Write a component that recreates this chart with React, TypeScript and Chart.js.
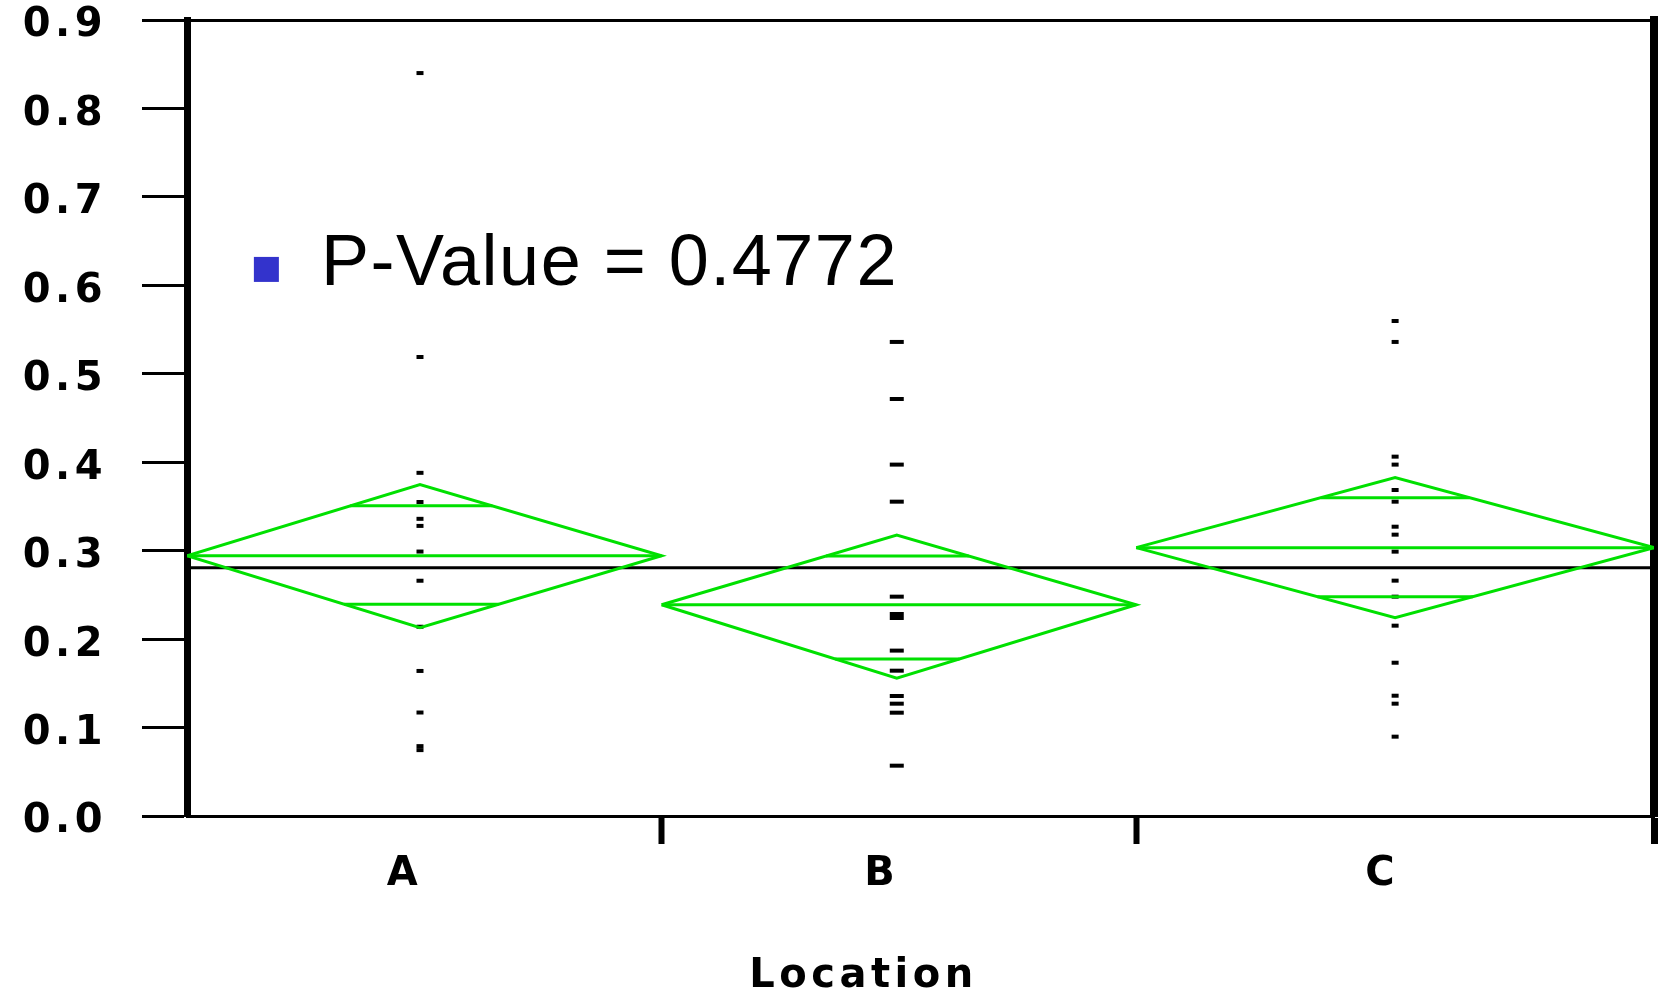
import React, { useEffect, useRef } from 'react';
import { Chart, registerables } from 'chart.js';

Chart.register(...registerables);

// ---------------- data ----------------
const categories = ['A', 'B', 'C'];
// group boundaries on the x axis (width of each group's diamond)
const groupEdges = [0, 11, 22, 34];
const groupCenters = [5.4, 16.45, 28.0];
// positions where the category labels sit
const labelPositions = [5.04, 16.1, 27.7];

const groupMeans = [0.2943, 0.2389, 0.3034];
const ciUpper = [0.3748, 0.3177, 0.3826];
const ciLower = [0.2128, 0.1557, 0.2242];
const overlapUpper = [0.3507, 0.294, 0.3599];
const overlapLower = [0.2393, 0.1775, 0.248];
const grandMean = 0.2808;

const pointsA = [0.84, 0.519, 0.388, 0.355, 0.336, 0.328, 0.299, 0.266, 0.214, 0.164, 0.117, 0.079, 0.0745];
const pointsB = [0.536, 0.4715, 0.3973, 0.3554, 0.248, 0.2284, 0.2239, 0.187, 0.1643, 0.1357, 0.127, 0.1168, 0.0569];
const pointsC = [0.5597, 0.536, 0.4063, 0.3973, 0.3686, 0.3554, 0.3271, 0.3181, 0.2989, 0.2661, 0.248, 0.2152, 0.1733, 0.136, 0.127, 0.0897];

const yTicks = [0, 0.1, 0.2, 0.3, 0.4, 0.5, 0.6, 0.7, 0.8, 0.9];
const xTitle = 'Location';
const xTitleAt = 15.68;
const pValueText = 'P-Value = 0.4772';
const pValueAnchor = { x: 1.55, y: 0.618 };

// ---------------- styles ----------------
const GREEN = 'rgb(0,224,0)';
const BLACK = '#000';
const MARKER_BLUE = 'rgb(51,51,204)';
const dashHalf = [3.5, 7, 3.5];
const SPACING = '4.5px';
const axisFont = { family: "'DejaVu Sans', sans-serif", size: 40, weight: 'bold' as const, lineHeight: 1 };

function buildDatasets() {
  const ds: any[] = [];
  const lineBase = { showLine: true, pointRadius: 0, borderWidth: 3, fill: false };
  for (let i = 0; i < categories.length; i++) {
    const x0 = groupEdges[i];
    const x1 = groupEdges[i + 1];
    const xc = groupCenters[i];
    const m = groupMeans[i];
    ds.push({
      ...lineBase,
      label: categories[i] + ' diamond',
      borderColor: GREEN,
      data: [
        { x: x0, y: m },
        { x: xc, y: ciUpper[i] },
        { x: x1, y: m },
        { x: xc, y: ciLower[i] },
        { x: x0, y: m },
      ],
    });
    ds.push({
      ...lineBase,
      label: categories[i] + ' mean',
      borderColor: GREEN,
      data: [
        { x: x0, y: m },
        { x: x1, y: m },
      ],
    });
    const marks: [number, number][] = [
      [overlapUpper[i], ciUpper[i]],
      [overlapLower[i], ciLower[i]],
    ];
    marks.forEach(([ov, ci], k) => {
      const f = 1 - (ov - m) / (ci - m);
      ds.push({
        ...lineBase,
        label: categories[i] + (k === 0 ? ' overlap upper' : ' overlap lower'),
        borderColor: GREEN,
        data: [
          { x: xc - f * (xc - x0), y: ov },
          { x: xc + f * (x1 - xc), y: ov },
        ],
      });
    });
  }
  ds.push({
    ...lineBase,
    label: 'Grand mean',
    borderColor: BLACK,
    data: [
      { x: groupEdges[0], y: grandMean },
      { x: groupEdges[groupEdges.length - 1], y: grandMean },
    ],
  });
  [pointsA, pointsB, pointsC].forEach((pts, i) => {
    ds.push({
      label: categories[i] + ' points',
      showLine: false,
      data: pts.map((v) => ({ x: groupCenters[i], y: v })),
      pointStyle: 'line',
      pointRadius: dashHalf[i],
      pointBorderWidth: 4,
      pointBorderColor: BLACK,
      pointBackgroundColor: BLACK,
      borderColor: BLACK,
    });
  });
  return ds;
}

const textPlugin = {
  id: 'textExtras',
  beforeDraw(chart: any) {
    chart.ctx.letterSpacing = SPACING;
  },
  afterDraw(chart: any) {
    const { ctx, scales, chartArea } = chart;
    ctx.save();
    // axis title
    ctx.letterSpacing = SPACING;
    ctx.font = "bold 40px 'DejaVu Sans', sans-serif";
    ctx.fillStyle = BLACK;
    ctx.textAlign = 'center';
    ctx.textBaseline = 'alphabetic';
    ctx.fillText(xTitle, scales.x.getPixelForValue(xTitleAt), chartArea.bottom + 171);
    // p-value note
    ctx.letterSpacing = '1.5px';
    const ax = scales.x.getPixelForValue(pValueAnchor.x);
    const ay = scales.y.getPixelForValue(pValueAnchor.y);
    ctx.fillStyle = MARKER_BLUE;
    ctx.fillRect(ax, ay - 12.5, 25, 25);
    ctx.fillStyle = BLACK;
    ctx.font = "72px 'Liberation Sans', Arial, sans-serif";
    ctx.textAlign = 'left';
    ctx.textBaseline = 'alphabetic';
    ctx.fillText(pValueText, ax + 67, ay + 15.5);
    ctx.restore();
    ctx.letterSpacing = SPACING;
  },
};

export default function App() {
  const canvasRef = useRef<HTMLCanvasElement | null>(null);

  useEffect(() => {
    if (!canvasRef.current) return;
    const xMax = groupEdges[groupEdges.length - 1];
    const chart = new Chart(canvasRef.current, {
      type: 'scatter',
      data: { datasets: buildDatasets() },
      plugins: [textPlugin],
      options: {
        animation: false,
        responsive: false,
        events: [],
        layout: { padding: { top: 20, left: 0, right: 0, bottom: 0 } },
        plugins: {
          legend: { display: false },
          tooltip: { enabled: false },
        },
        scales: {
          x: {
            type: 'linear',
            position: 'bottom',
            min: 0,
            max: xMax,
            afterBuildTicks: (s: any) => {
              const vals = [...groupEdges.slice(1), ...labelPositions].sort((a, b) => a - b);
              s.ticks = vals.map((v) => ({ value: v }));
            },
            afterFit: (s: any) => {
              s.height = 176;
              s.paddingLeft = 0;
              s.paddingRight = 0;
            },
            grid: {
              display: true,
              drawOnChartArea: false,
              drawTicks: true,
              tickLength: 28,
              tickColor: (c: any) => (c.tick && groupEdges.includes(c.tick.value) ? BLACK : 'rgba(0,0,0,0)'),
              tickWidth: (c: any) => (c.tick && c.tick.value === xMax ? 7 : 6),
            },
            border: { display: true, color: BLACK, width: 3 },
            ticks: {
              autoSkip: false,
              maxRotation: 0,
              minRotation: 0,
              padding: 11,
              color: BLACK,
              font: axisFont,
              callback: (v: any) => {
                const i = labelPositions.indexOf(Number(v));
                return i >= 0 ? categories[i] : '';
              },
            },
          },
          xTop: {
            type: 'linear',
            position: 'top',
            min: 0,
            max: xMax,
            afterFit: (s: any) => {
              s.height = 0;
              s.paddingLeft = 0;
              s.paddingRight = 0;
            },
            grid: { display: true, drawOnChartArea: false, drawTicks: false },
            border: { display: true, color: BLACK, width: 3 },
            ticks: { display: false },
          },
          y: {
            type: 'linear',
            position: 'left',
            min: 0,
            max: 0.9,
            afterBuildTicks: (s: any) => {
              s.ticks = yTicks.map((v) => ({ value: v }));
            },
            afterFit: (s: any) => {
              s.width = 187;
              s.paddingTop = 0;
              s.paddingBottom = 0;
            },
            grid: {
              display: true,
              drawOnChartArea: false,
              drawTicks: true,
              tickLength: 45,
              tickWidth: 3,
              tickColor: BLACK,
            },
            border: { display: true, color: BLACK, width: 7 },
            ticks: {
              autoSkip: false,
              padding: 35,
              labelOffset: 6,
              color: BLACK,
              font: axisFont,
              callback: (v: any) => Number(v).toFixed(1),
            },
          },
          yRight: {
            type: 'linear',
            position: 'right',
            min: 0,
            max: 0.9,
            afterFit: (s: any) => {
              s.width = 6;
              s.paddingTop = 0;
              s.paddingBottom = 0;
            },
            grid: { display: true, drawOnChartArea: false, drawTicks: false },
            border: { display: true, color: BLACK, width: 8 },
            ticks: { display: false },
          },
        },
      } as any,
    });
    return () => chart.destroy();
  }, []);

  return (
    <div style={{ position: 'fixed', left: 0, top: 0, width: 1665, height: 992, background: '#fff' }}>
      <canvas ref={canvasRef} width={1665} height={992} style={{ display: 'block' }} />
    </div>
  );
}
